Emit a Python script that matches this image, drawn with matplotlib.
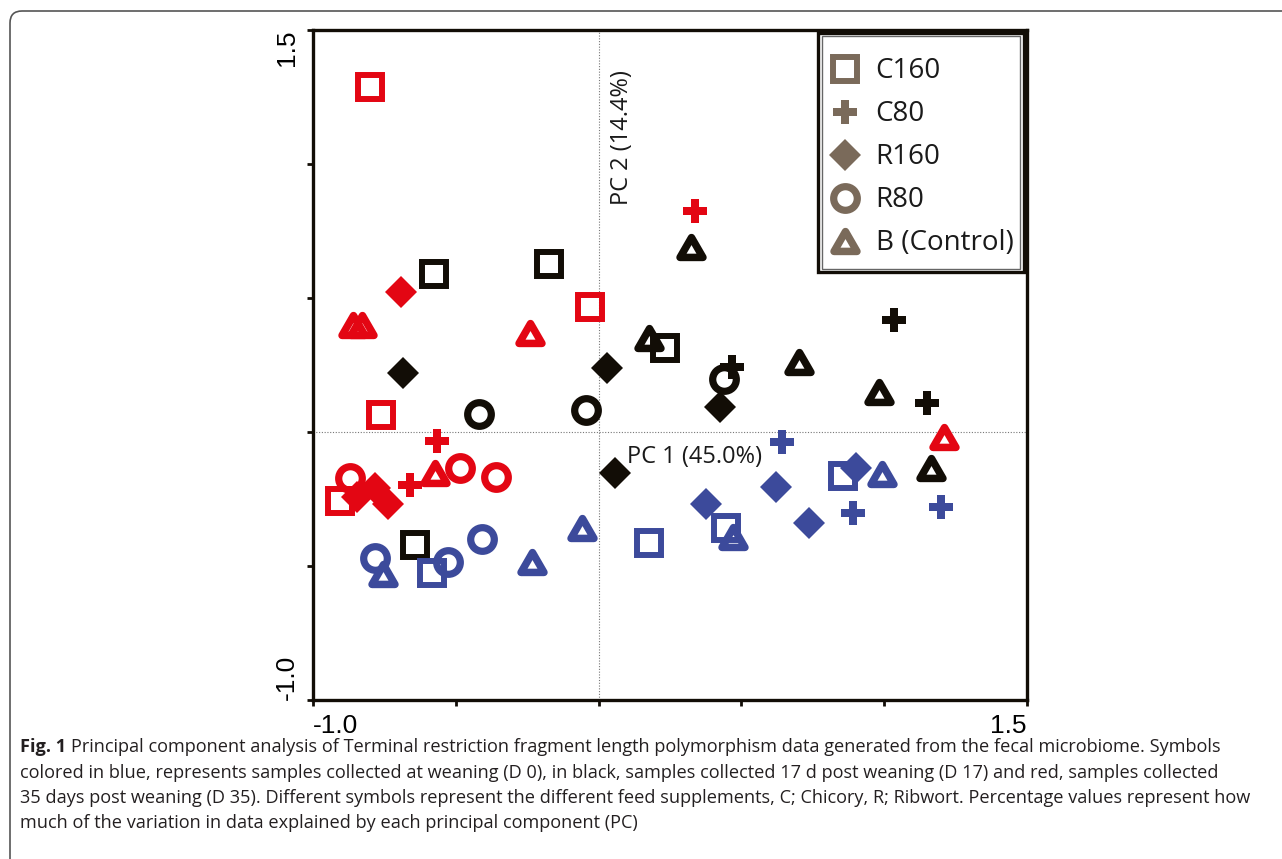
import numpy as np
import matplotlib
matplotlib.use("Agg")
import matplotlib.pyplot as plt
from matplotlib.path import Path
from matplotlib.markers import MarkerStyle
from matplotlib.lines import Line2D
from matplotlib.patches import Rectangle, FancyBboxPatch

# PCA scores (D0 = blue, D17 = black, D35 = red)
c160_x = [-0.800, -0.030, -0.762, -0.905, -0.577, -0.175, 0.232, -0.643, 0.177, 0.446, 0.856, -0.583]
c160_y = [1.287, 0.466, 0.063, -0.257, 0.590, 0.627, 0.313, -0.422, -0.414, -0.358, -0.164, -0.526]
c160_day = ["D35"] * 4 + ["D17"] * 4 + ["D0"] * 4

c80_x = [0.338, -0.566, -0.660, 1.034, 0.467, 1.150, 0.642, 0.891, 1.199]
c80_y = [0.825, -0.034, -0.198, 0.418, 0.243, 0.108, -0.037, -0.302, -0.280]
c80_day = ["D35"] * 3 + ["D17"] * 3 + ["D0"] * 3

r160_x = [-0.692, -0.846, -0.783, -0.737, -0.685, 0.029, 0.425, 0.057, 0.376, 0.621, 0.737, 0.901]
r160_y = [0.522, -0.243, -0.209, -0.269, 0.220, 0.239, 0.093, -0.153, -0.269, -0.205, -0.338, -0.134]
r160_day = ["D35"] * 4 + ["D17"] * 4 + ["D0"] * 4

r80_x = [-0.870, -0.485, -0.359, -0.418, -0.044, 0.439, -0.783, -0.527, -0.408]
r80_y = [-0.172, -0.134, -0.168, 0.067, 0.082, 0.198, -0.470, -0.485, -0.399]
r80_day = ["D35"] * 3 + ["D17"] * 3 + ["D0"] * 3

b_x = [-0.860, -0.828, -0.240, -0.573, 1.209, 0.324, 0.176, 0.702, 0.982, 1.164,
       -0.755, -0.233, -0.058, 0.471, 0.992]
b_y = [0.399, 0.399, 0.369, -0.153, -0.019, 0.690, 0.351, 0.262, 0.149, -0.134,
       -0.530, -0.485, -0.358, -0.392, -0.157]
b_day = ["D35"] * 5 + ["D17"] * 5 + ["D0"] * 5

day_colors = {"D0": "#3c4a9b", "D17": "#120d06", "D35": "#e30613"}
legend_color = "#7a6a5a"

tri = MarkerStyle(Path([(0, 0.866), (-1, -0.866), (1, -0.866), (0, 0.866)],
                       [1, 2, 2, 79]), joinstyle="miter")

groups = [
    ("C160", c160_x, c160_y, c160_day, dict(marker="s", ms=17.3, mew=4.3, hollow=True)),
    ("C80", c80_x, c80_y, c80_day, dict(marker="P", ms=17.5, mew=0, hollow=False)),
    ("R160", r160_x, r160_y, r160_day, dict(marker="D", ms=16.8, mew=0, hollow=False)),
    ("R80", r80_x, r80_y, r80_day, dict(marker="o", ms=17.0, mew=5.2, hollow=True)),
    ("B (Control)", b_x, b_y, b_day, dict(marker=tri, ms=16.5, mew=5.4, hollow=True)),
]

fig = plt.figure(figsize=(12.82, 8.59), dpi=100)
ax = fig.add_axes([313 / 1282, 1 - 700 / 859, 714 / 1282, 670 / 859])

# outer rounded frame of the figure panel
frame = FancyBboxPatch((0.10, -0.5), 13.5, 8.59 - 0.11 + 0.5,
                       boxstyle="round,pad=0,rounding_size=0.12",
                       transform=fig.dpi_scale_trans, fc="none", ec="#555555", lw=1.2)
fig.add_artist(frame)

ax.axvline(0, color="#777777", lw=0.8, ls=(0, (1, 1.5)), zorder=1)
ax.axhline(0, color="#777777", lw=0.8, ls=(0, (1, 1.5)), zorder=1)

handles = []
for name, xs, ys, days, st in groups:
    for d in ["D17", "D35", "D0"]:
        idx = [i for i, dd in enumerate(days) if dd == d]
        if not idx:
            continue
        c = day_colors[d]
        ax.plot(np.array(xs)[idx], np.array(ys)[idx], ls="none", marker=st["marker"],
                ms=st["ms"], mew=st["mew"], mec=c,
                mfc="none" if st["hollow"] else c, zorder=3)
    handles.append(Line2D([], [], ls="none", marker=st["marker"], ms=st["ms"],
                          mew=st["mew"], mec=legend_color,
                          mfc="none" if st["hollow"] else legend_color, label=name))

ax.set_xlim(-1.0, 1.5)
ax.set_ylim(-1.0, 1.5)
ticks = [-1.0, -0.5, 0.0, 0.5, 1.0, 1.5]
ax.set_xticks(ticks)
ax.set_yticks(ticks)
ax.set_xticklabels(["-1.0", "", "", "", "", "1.5"])
ax.set_yticklabels(["-1.0", "", "", "", "", "1.5"], rotation=90)
ax.tick_params(direction="out", length=4, width=2, color="#120d06",
               labelsize=19, pad=6)
for lab in ax.get_xticklabels() + ax.get_yticklabels():
    lab.set_fontfamily("Liberation Sans")
xl = ax.get_xticklabels()
xl[0].set_ha("left")
xl[-1].set_ha("right")
yl = ax.get_yticklabels()
yl[0].set_va("bottom")
yl[-1].set_va("top")
for s in ax.spines.values():
    s.set_linewidth(2.4)
    s.set_color("#120d06")

ax.text(0.04, 1.35, "PC 2 (14.4%)", rotation=90, ha="left", va="top",
        fontsize=17, family="Open Sans", color="#1a1a1a")
ax.text(0.10, -0.05, "PC 1 (45.0%)", ha="left", va="top",
        fontsize=17, family="Open Sans", color="#1a1a1a")

# legend with double border
bx0, by0 = (818 - 313) / 714, (700 - 272) / 670
bw, bh = (1024 - 818) / 714, (272 - 33) / 670
ax.add_patch(Rectangle((bx0, by0), bw, bh, transform=ax.transAxes, fc="white",
                       ec="#120d06", lw=2.4, zorder=4))
ax.add_patch(Rectangle((bx0 + 0.005, by0 + 0.005), bw - 0.010, bh - 0.010,
                       transform=ax.transAxes, fc="none", ec="#666666", lw=1.0, zorder=5))
leg = ax.legend(handles=handles, loc="upper left",
                bbox_to_anchor=(bx0 + 0.005, by0 + bh - 0.024), frameon=False,
                prop={"family": "Open Sans", "size": 20}, labelspacing=0.54,
                handlelength=1.1, handletextpad=0.55, borderpad=0.3,
                borderaxespad=0)
leg.set_zorder(6)
for t in leg.get_texts():
    t.set_color("#1a1a1a")

# caption
cap_kw = dict(family="Open Sans", fontsize=13.1, color="#231f20", va="baseline")
t1 = fig.text(20 / 1282, 1 - 752 / 859, "Fig. 1", fontweight="bold", **cap_kw)
fig.canvas.draw()
ext = t1.get_window_extent()
fig.text((ext.x1 + 5) / 1282, 1 - 752 / 859,
         "Principal component analysis of Terminal restriction fragment length "
         "polymorphism data generated from the fecal microbiome. Symbols", **cap_kw)
lines = [
    "colored in blue, represents samples collected at weaning (D 0), in black, samples "
    "collected 17 d post weaning (D 17) and red, samples collected",
    "35 days post weaning (D 35). Different symbols represent the different feed "
    "supplements, C; Chicory, R; Ribwort. Percentage values represent how",
    "much of the variation in data explained by each principal component (PC)",
]
for i, ln in enumerate(lines):
    fig.text(20 / 1282, 1 - (752 + 25.5 * (i + 1)) / 859, ln, **cap_kw)

fig.savefig("out.png", dpi=100)
